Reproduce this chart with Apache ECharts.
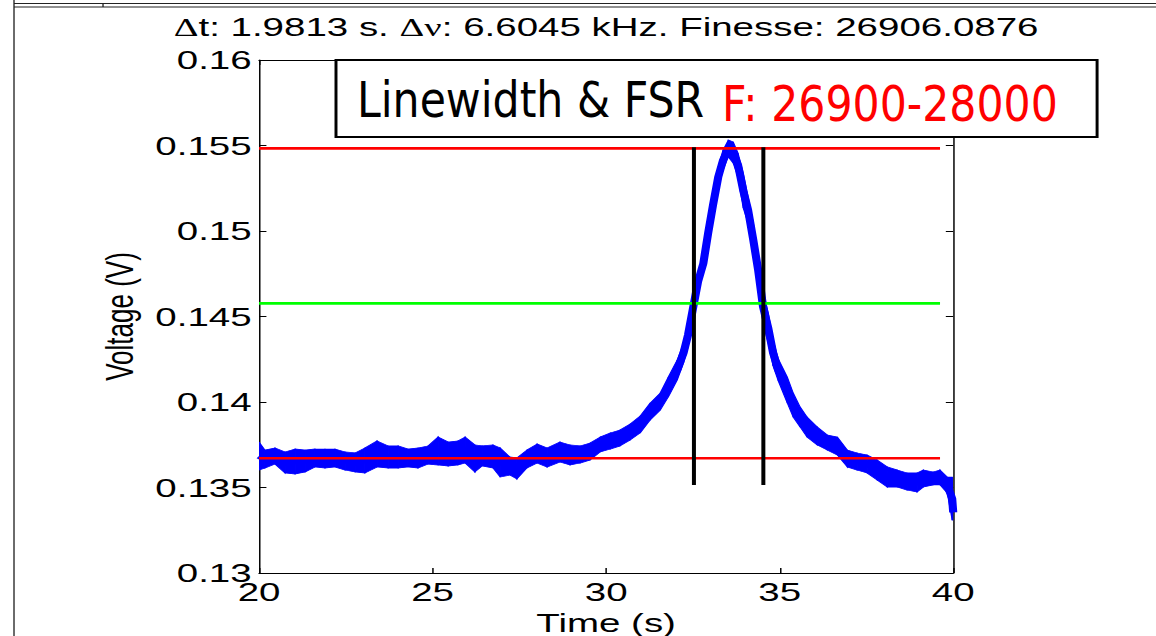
<!DOCTYPE html>
<html><head><meta charset="utf-8">
<script src="https://cdn.jsdelivr.net/npm/echarts@6/dist/echarts.min.js"></script>
<style>
html,body{margin:0;padding:0;background:#fff;overflow:hidden;}
#wrap{width:1156px;height:636px;overflow:hidden;position:relative;background:#fff;}
#chart{width:781px;height:636px;transform:scaleX(1.48015);transform-origin:0 0;}
</style></head><body>
<div id="wrap"><div id="chart"></div></div>
<script>
// horizontal stretch of the original figure
const SX = 1156 / 781;

const titleText = '{g|\u0394}t: 1.9813 s. {g|\u0394\u03bd}: 6.6045 kHz. Finesse: 26906.0876';
const boxLabel = 'Linewidth & FSR';
const boxFinesse = 'F: 26900-28000';
const xName = 'Time (s)';
const yName = 'Voltage (V)';

const xTicks = [20, 25, 30, 35, 40];
const yTicks = [0.13, 0.135, 0.14, 0.145, 0.15, 0.155, 0.16];

// time samples (s)
const timeS = [20.00,20.17,20.46,20.75,21.04,21.33,21.61,21.90,22.19,22.48,22.77,23.05,23.40,23.72,24.01,24.29,24.58,24.87,25.16,25.45,25.73,25.94,26.22,26.43,26.74,26.95,27.23,27.43,27.72,28.01,28.30,28.67,28.96,29.25,29.54,29.83,30.12,30.40,30.69,30.98,31.27,31.56,31.79,32.05,32.23,32.36,32.51,32.65,32.80,32.94,33.08,33.23,33.37,33.52,33.66,33.80,33.95,34.09,34.24,34.38,34.52,34.67,34.81,34.96,35.22,35.39,35.59,35.79,36.08,36.37,36.66,36.95,37.23,37.52,37.81,38.10,38.39,38.67,38.96,39.14,39.42,39.62,39.83,39.97,40.00];
// upper edge of the noisy voltage trace (V)
const voltageUpper = [0.13766,0.13719,0.13731,0.13708,0.13725,0.13719,0.13725,0.13725,0.13725,0.13708,0.13702,0.13731,0.13772,0.13743,0.13743,0.13725,0.13731,0.13743,0.13795,0.13766,0.13772,0.13795,0.13749,0.13743,0.13749,0.13731,0.13678,0.13673,0.13719,0.13754,0.13731,0.13766,0.13749,0.13743,0.13760,0.13795,0.13819,0.13836,0.13871,0.13918,0.13994,0.14053,0.14146,0.14246,0.14345,0.14462,0.14614,0.14755,0.14848,0.15047,0.15199,0.15374,0.15474,0.15532,0.15521,0.15456,0.15339,0.15199,0.15047,0.14848,0.14655,0.14521,0.14363,0.14252,0.14146,0.14053,0.13971,0.13912,0.13854,0.13807,0.13795,0.13719,0.13702,0.13690,0.13661,0.13620,0.13602,0.13585,0.13585,0.13602,0.13591,0.13602,0.13561,0.13561,0.13398];
// lower edge of the noisy voltage trace (V)
const voltageLower = [0.13602,0.13614,0.13637,0.13585,0.13579,0.13591,0.13620,0.13614,0.13620,0.13602,0.13591,0.13585,0.13620,0.13614,0.13614,0.13620,0.13614,0.13637,0.13632,0.13626,0.13632,0.13643,0.13591,0.13626,0.13614,0.13561,0.13573,0.13550,0.13614,0.13643,0.13620,0.13649,0.13632,0.13643,0.13661,0.13708,0.13725,0.13743,0.13778,0.13819,0.13895,0.13953,0.14029,0.14129,0.14228,0.14322,0.14497,0.14655,0.14772,0.14930,0.15105,0.15257,0.15357,0.15433,0.15398,0.15316,0.15135,0.15047,0.14848,0.14696,0.14462,0.14345,0.14211,0.14123,0.13994,0.13912,0.13854,0.13795,0.13749,0.13719,0.13690,0.13620,0.13602,0.13585,0.13544,0.13503,0.13503,0.13485,0.13474,0.13503,0.13515,0.13515,0.13468,0.13310,0.13310];

const redLevels = [0.15483, 0.13671];
const greenLevel = [0.14577];
const levelSpan = [20, 39.62];
const cursorTimes = [32.53, 34.53];
const cursorRange = [0.13515, 0.15490];

// band segments between consecutive samples: [t0, lo0, hi0, t1, lo1, hi1]
const bandSegments = timeS.slice(0, -1).map((t, i) =>
  [t, voltageLower[i], voltageUpper[i], timeS[i + 1], voltageLower[i + 1], voltageUpper[i + 1]]);
const centerData = timeS.map((t, i) => [t, (voltageUpper[i] + voltageLower[i]) / 2]);

const FONT = 'Liberation Sans, Arial, sans-serif';
const chart = echarts.init(document.getElementById('chart'), null, {renderer: 'svg'});

const axisCommon = {
  type: 'value',
  axisLine: {show: true, onZero: false, lineStyle: {color: '#000', width: 1}},
  axisTick: {show: true, inside: true, length: 5, lineStyle: {color: '#000', width: 1}},
  splitLine: {show: false}
};

const series = [
  {type: 'custom', name: 'band', data: bandSegments, silent: true, clip: true, z: 2,
   encode: {x: [0, 3], y: [1, 2, 4, 5]},
   renderItem: function (params, api) {
     const a = api.coord([api.value(0), api.value(1)]);
     const b = api.coord([api.value(0), api.value(2)]);
     const c = api.coord([api.value(3), api.value(5)]);
     const d = api.coord([api.value(3), api.value(4)]);
     return {type: 'polygon', shape: {points: [a, b, c, d]},
       style: {fill: '#0000ff', stroke: '#0000ff', lineWidth: 0.8}};
   }},
  {type: 'line', name: 'voltage', data: centerData, symbol: 'none', silent: true,
   lineStyle: {width: 5.5, color: '#0000ff', join: 'round', cap: 'butt'}, z: 3}
];
redLevels.forEach(v => series.push({type: 'line', data: levelSpan.map(t => [t, v]), symbol: 'none', silent: true,
  lineStyle: {width: 2.6, color: '#ff0000'}, z: 5}));
greenLevel.forEach(v => series.push({type: 'line', data: levelSpan.map(t => [t, v]), symbol: 'none', silent: true,
  lineStyle: {width: 2.6, color: '#00ff00'}, z: 5}));
cursorTimes.forEach(t => series.push({type: 'line', data: cursorRange.map(v => [t, v]), symbol: 'none', silent: true,
  lineStyle: {width: 2.7, color: '#000000'}, z: 6}));

const option = {
  animation: false,
  backgroundColor: '#fff',
  title: {
    text: titleText, left: 404.5, top: 9, textAlign: 'center',
    textStyle: {fontFamily: FONT, fontSize: 26, fontWeight: 'normal', color: '#000',
      rich: {g: {fontFamily: 'Liberation Serif, DejaVu Serif, serif', fontSize: 26, color: '#000'}}}
  },
  grid: {left: 175, top: 60, width: 469, height: 513, containLabel: false, outerBoundsMode: 'none'},
  xAxis: [
    Object.assign({}, axisCommon, {position: 'bottom', min: xTicks[0], max: xTicks[xTicks.length - 1], interval: 5,
      name: xName, nameLocation: 'middle', nameGap: 34,
      nameTextStyle: {fontFamily: FONT, fontSize: 26, color: '#000'},
      axisLabel: {show: true, margin: 6, fontFamily: FONT, fontSize: 26, color: '#000', showMinLabel: true, showMaxLabel: true}}),
    Object.assign({}, axisCommon, {position: 'top', min: xTicks[0], max: xTicks[xTicks.length - 1], interval: 5,
      axisLabel: {show: false}})
  ],
  yAxis: [
    Object.assign({}, axisCommon, {position: 'left', min: yTicks[0], max: yTicks[yTicks.length - 1], interval: 0.005,
      name: yName, nameLocation: 'middle', nameGap: 79,
      nameTextStyle: {fontFamily: FONT, fontSize: 26, color: '#000'},
      axisLabel: {show: true, margin: 5, fontFamily: FONT, fontSize: 26, color: '#000', showMinLabel: true, showMaxLabel: true,
        formatter: v => String(+v.toFixed(3))}}),
    Object.assign({}, axisCommon, {position: 'right', min: yTicks[0], max: yTicks[yTicks.length - 1], interval: 0.005,
      axisLabel: {show: false}})
  ],
  graphic: [
    {type: 'line', z: 200, silent: true, shape: {x1: 9.46, y1: 3.5, x2: 781, y2: 3.5}, style: {stroke: '#222', lineWidth: 1}},
    {type: 'line', z: 200, silent: true, shape: {x1: 9.46, y1: 7, x2: 781, y2: 7}, style: {stroke: '#222', lineWidth: 1}},
    {type: 'line', z: 200, silent: true, shape: {x1: 9.46, y1: 0, x2: 9.46, y2: 636}, style: {stroke: '#222', lineWidth: 0.9}},
    {type: 'line', z: 200, silent: true, shape: {x1: 69.6, y1: 3.5, x2: 69.6, y2: 7}, style: {stroke: '#222', lineWidth: 0.9}},
    {type: 'rect', z: 300, silent: true, shape: {x: 227, y: 60, width: 514.2, height: 77},
      style: {fill: '#fff', stroke: '#000', lineWidth: 2}},
    {type: 'text', z: 301, silent: true, x: 241.2, y: 100, scaleX: 0.588,
      style: {text: boxLabel, fontFamily: 'DejaVu Sans', fontSize: 49, fill: '#000', align: 'left', verticalAlign: 'middle'}},
    {type: 'text', z: 301, silent: true, x: 487.8, y: 104, scaleX: 0.588,
      style: {text: boxFinesse, fontFamily: 'DejaVu Sans', fontSize: 49, fill: '#ff0000', align: 'left', verticalAlign: 'middle'}}
  ],
  series: series
};
chart.setOption(option);
</script>
</body></html>
